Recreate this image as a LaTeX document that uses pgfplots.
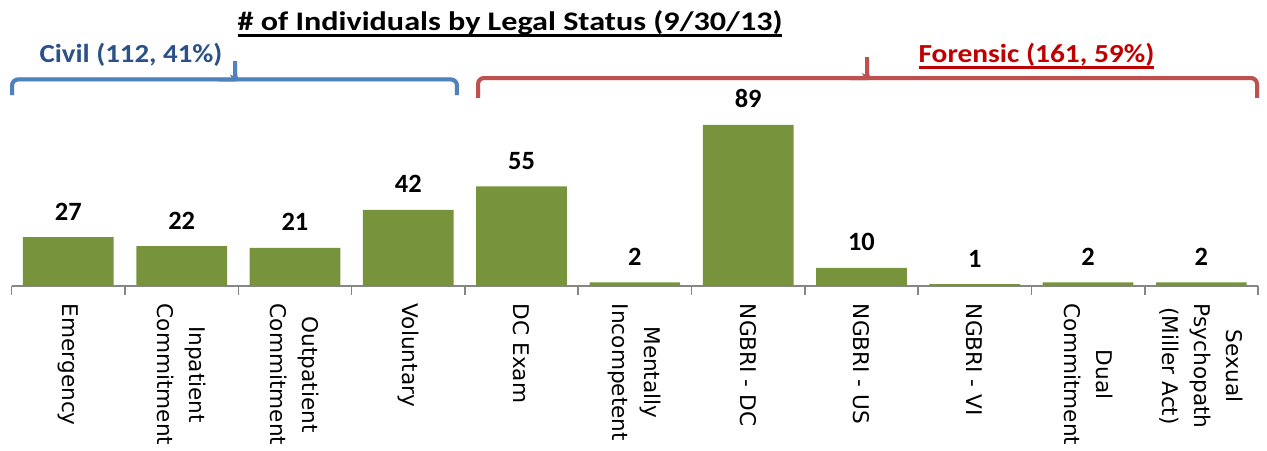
\documentclass[border=0pt]{standalone}
\usepackage{fontspec}
\setmainfont{Carlito}
\newfontfamily\dejavu{DejaVu Sans}
\usepackage{graphicx}
\usepackage{pgfplots}
\pgfplotsset{compat=1.18}
\usetikzlibrary{calc}

\definecolor{barg}{HTML}{77933C}
\definecolor{axgray}{HTML}{868686}
\definecolor{civtxt}{HTML}{2A5188}
\definecolor{civbr}{HTML}{4F81BD}
\definecolor{fortxt}{HTML}{C00000}
\definecolor{forbr}{HTML}{C0504D}

% underline with a rule of our own thickness
\newcommand\ul[1]{\setbox0=\hbox{#1}\rlap{\vrule width\wd0 height-1.3pt depth3.0pt}\box0}

\begin{document}
\begin{tikzpicture}
\begin{axis}[
    name=ax,
    ybar,
    bar width=45.35pt,
    width=623.15pt, height=143pt, scale only axis,
    xmin=-0.5, xmax=10.5, ymin=0, ymax=158,
    enlarge x limits=false,
    axis x line*=bottom, axis y line=none,
    axis line style={draw=axgray, line width=0.8pt},
    ytick=\empty,
    xtick={0,1,2,3,4,5,6,7,8,9,10},
    xticklabels={{Emergency},{Inpatient\\Commitment},{Outpatient\\Commitment},{Voluntary},{DC Exam},{Mentally\\Incompetent},{NGBRI - DC},{NGBRI - US},{NGBRI - VI},{Dual\\Commitment},{Sexual\\Psychopath\\(Miller Act)}},
    major tick length=0pt,
    tick align=outside,
    xticklabel shift=5.4pt,
    x tick label style={rotate=-90, anchor=west, align=center,
        font=\dejavu\fontsize{10.8}{16}\selectfont},
    extra x ticks={-0.5,0.5,1.5,2.5,3.5,4.5,5.5,6.5,7.5,8.5,9.5,10.5},
    extra x tick labels={},
    extra x tick style={major tick length=4.5pt, tick align=outside,
        tick style={draw=axgray, line width=0.8pt}},
    /pgf/number format/assume math mode=true,
    nodes near coords,
    every node near coord/.append style={font=\bfseries\fontsize{13.2}{15}\selectfont,
        text=black, yshift=5.0pt},
    clip=false,
]
\addplot[fill=barg, draw=none] coordinates {
    (0,27) (1,22) (2,21) (3,42) (4,55) (5,2) (6,89) (7,10) (8,1) (9,2) (10,2)};

% title and group labels
\node[anchor=base, font=\bfseries\fontsize{13.4}{16}\selectfont]
    at (axis cs:3.898,140.9) {\scalebox{1.2}[1]{\ul{\# of Individuals by Legal Status (9/30/13)}}};
\node[anchor=base, text=civtxt, font=\bfseries\fontsize{13}{16}\selectfont]
    at (axis cs:0.553,123.2) {\scalebox{1.11}[1]{Civil (112, 41\%)}};
\node[anchor=base, text=fortxt, font=\bfseries\fontsize{13}{16}\selectfont]
    at (axis cs:8.545,123.2) {\scalebox{1.13}[1]{\ul{Forensic (161, 59\%)}}};

% brace points
\coordinate (cL) at (axis cs:-0.497,105.5);
\coordinate (cM) at (axis cs:1.471,114.1);
\coordinate (cR) at (axis cs:3.430,105.5);
\coordinate (cT) at (axis cs:1.471,124.3);
\coordinate (fL) at (axis cs:3.616,103.9);
\coordinate (fM) at (axis cs:7.049,114.9);
\coordinate (fR) at (axis cs:10.491,103.9);
\coordinate (fT) at (axis cs:7.049,126.5);
\end{axis}

% braces, with a faint shadow
\begin{scope}[line width=2pt, rounded corners=3pt]
  \begin{scope}[shift={(0.8pt,-1.3pt)}, draw=black, opacity=0.18]
    \draw (cL) |- ($(cM)+(-2.5pt,0)$) to[out=0,in=-90] ($(cM)+(0,2.5pt)$) -- (cT);
    \draw (cR) |- ($(cM)+(2.5pt,0)$) to[out=180,in=-90] ($(cM)+(0,2.5pt)$);
    \draw (fL) |- ($(fM)+(-2.5pt,0)$) to[out=0,in=-90] ($(fM)+(0,2.5pt)$) -- (fT);
    \draw (fR) |- ($(fM)+(2.5pt,0)$) to[out=180,in=-90] ($(fM)+(0,2.5pt)$);
  \end{scope}
  \draw[civbr] (cL) |- ($(cM)+(-2.5pt,0)$) to[out=0,in=-90] ($(cM)+(0,2.5pt)$) -- (cT);
  \draw[civbr] (cR) |- ($(cM)+(2.5pt,0)$) to[out=180,in=-90] ($(cM)+(0,2.5pt)$);
  \draw[forbr] (fL) |- ($(fM)+(-2.5pt,0)$) to[out=0,in=-90] ($(fM)+(0,2.5pt)$) -- (fT);
  \draw[forbr] (fR) |- ($(fM)+(2.5pt,0)$) to[out=180,in=-90] ($(fM)+(0,2.5pt)$);
\end{scope}

\pgfresetboundingbox
\path[use as bounding box] ($(ax.south west)+(-5.85pt,-82pt)$) rectangle ($(ax.north east)+(4.5pt,0pt)$);
\end{tikzpicture}
\end{document}
